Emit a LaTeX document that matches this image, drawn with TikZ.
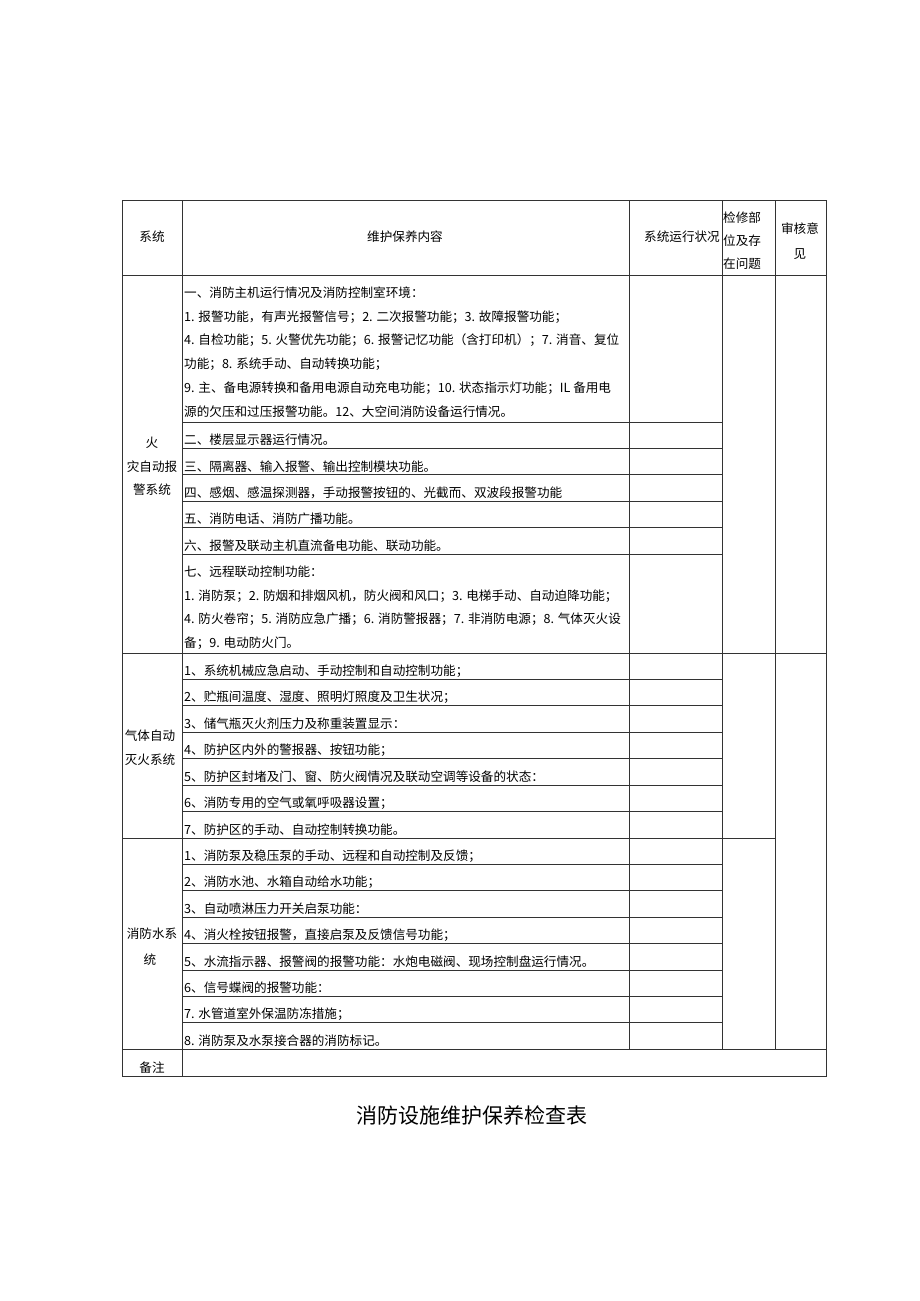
\documentclass[tikz,border=0pt]{standalone}
\usepackage{fontspec}
\setmainfont{Noto Sans CJK SC}
\tikzset{%
  tabline/.style = {draw=black!80, line width=0.8pt},%
  cell/.style    = {anchor=west, inner sep=0pt, font=\fontsize{12.6}{15}\selectfont},%
  head/.style    = {anchor=center, inner sep=0pt, font=\fontsize{12.6}{15}\selectfont},%
  sysname/.style = {head},%
  title/.style   = {anchor=center, inner sep=0pt, font=\fontsize{21}{25}\selectfont}%
}
\begin{document}
\begin{tikzpicture}[x=1pt,y=-1pt]
  \useasboundingbox (0,0) rectangle (920,1301);
  \draw[tabline] (122,200) rectangle (826,1076);
  \foreach \y in {275,653,1049} \draw[tabline] (122,\y) -- (826,\y);
  \draw[tabline] (122,838) -- (775,838);
  \foreach \y in {422,448.4,474.8,501.2,527.6,554,679.4,705.8,732.2,758.6,785,811.4,864.4,890.8,917.2,943.6,970,996.4,1022.8}
    \draw[tabline] (182,\y) -- (722,\y);
  \draw[tabline] (182,200) -- (182,1076);
  \foreach \x in {629,722,775} \draw[tabline] (\x,200) -- (\x,1049);
  \node[head] (hsys) at (152,237) {系统};
  \node[head] (hcontent) at (405,237) {维护保养内容};
  \node[head] (hstatus) at (682,237) {系统运行状况};
  \node[cell] (hcheck-1) at (723,218) {检修部};
  \node[cell] (hcheck-2) at (723,241) {位及存};
  \node[cell] (hcheck-3) at (723,264) {在问题};
  \node[head] (hreview-1) at (800,229) {审核意};
  \node[head] (hreview-2) at (800,254) {见};
  \node[sysname] (fire-a) at (152,443) {火};
  \node[sysname] (fire-b) at (152,467) {灾自动报};
  \node[sysname] (fire-c) at (152,490) {警系统};
  \node[sysname] (gas-a) at (150,736) {气体自动};
  \node[sysname] (gas-b) at (150,760) {灭火系统};
  \node[sysname] (water-a) at (152,934) {消防水系};
  \node[sysname] (water-b) at (150,960) {统};
  \node[sysname] (note) at (152,1068) {备注};
  \node[cell] (fire-1a) at (184,293) {一、消防主机运行情况及消防控制室环境：};
  \node[cell] (fire-1b) at (184,316.8) {1. 报警功能，有声光报警信号；2. 二次报警功能；3. 故障报警功能；};
  \node[cell] (fire-1c) at (184,340.6) {4. 自检功能；5. 火警优先功能；6. 报警记忆功能（含打印机）；7. 消音、复位};
  \node[cell] (fire-1d) at (184,364.4) {功能；8. 系统手动、自动转换功能；};
  \node[cell] (fire-1e) at (184,388.2) {9. 主、备电源转换和备用电源自动充电功能；10. 状态指示灯功能；IL 备用电};
  \node[cell] (fire-1f) at (184,412) {源的欠压和过压报警功能。12、大空间消防设备运行情况。};
  \foreach \txt [count=\i from 2] in {二、楼层显示器运行情况。,
      三、隔离器、输入报警、输出控制模块功能。,
      四、感烟、感温探测器，手动报警按钮的、光截而、双波段报警功能,
      五、消防电话、消防广播功能。,
      六、报警及联动主机直流备电功能、联动功能。}
    \node[cell] (fire-\i) at (184,{422+26.4*(\i-2)+18}) {\txt};
  \node[cell] (fire-7a) at (184,572) {七、远程联动控制功能：};
  \node[cell] (fire-7b) at (184,596) {1. 消防泵；2. 防烟和排烟风机，防火阀和风口；3. 电梯手动、自动迫降功能；};
  \node[cell] (fire-7c) at (184,619) {4. 防火卷帘；5. 消防应急广播；6. 消防警报器；7. 非消防电源；8. 气体灭火设};
  \node[cell] (fire-7d) at (184,643) {备；9. 电动防火门。};
  \foreach \txt [count=\i] in {1、系统机械应急启动、手动控制和自动控制功能；,
      2、贮瓶间温度、湿度、照明灯照度及卫生状况；,
      3、储气瓶灭火剂压力及称重装置显示：,
      4、防护区内外的警报器、按钮功能；,
      5、防护区封堵及门、窗、防火阀情况及联动空调等设备的状态：,
      6、消防专用的空气或氧呼吸器设置；,
      7、防护区的手动、自动控制转换功能。}
    \node[cell] (gas-\i) at (184,{653+26.4*(\i-1)+18}) {\txt};
  \foreach \txt [count=\i] in {1、消防泵及稳压泵的手动、远程和自动控制及反馈；,
      2、消防水池、水箱自动给水功能；,
      3、自动喷淋压力开关启泵功能：,
      4、消火栓按钮报警，直接启泵及反馈信号功能；,
      5、水流指示器、报警阀的报警功能：水炮电磁阀、现场控制盘运行情况。,
      6、信号蝶阀的报警功能：,
      7. 水管道室外保温防冻措施；,
      8. 消防泵及水泵接合器的消防标记。}
    \node[cell] (water-\i) at (184,{838+26.4*(\i-1)+18}) {\txt};
  \node[title] (caption) at (472,1115) {消防设施维护保养检查表};
\end{tikzpicture}
\end{document}
